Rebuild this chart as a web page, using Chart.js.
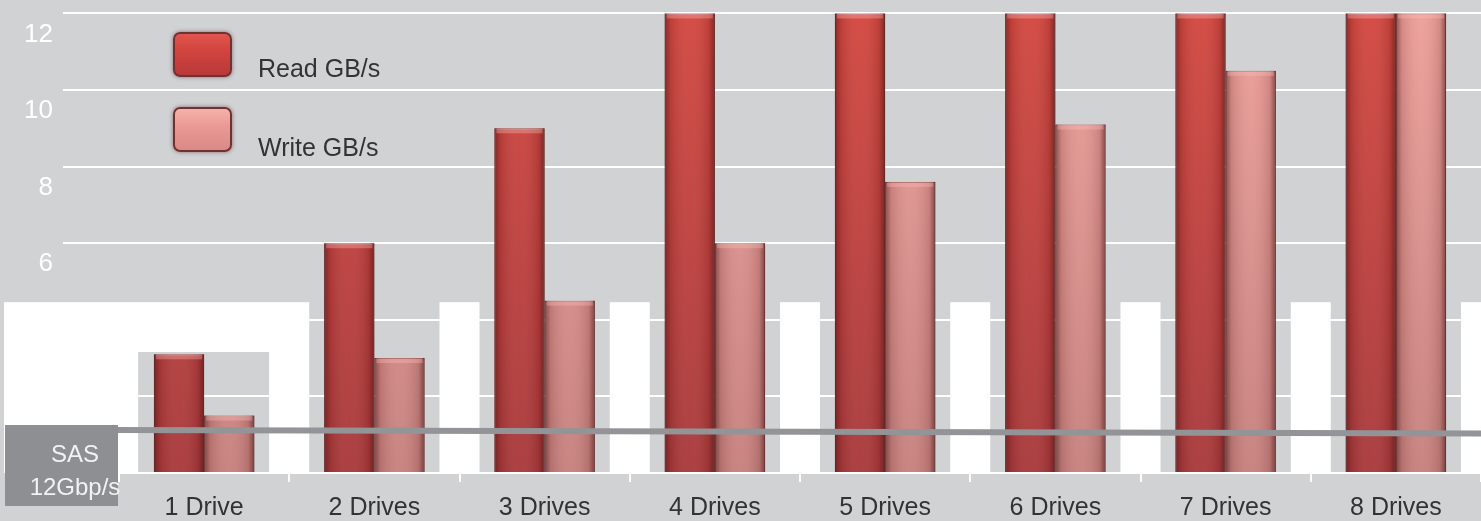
<!DOCTYPE html>
<html>
<head>
<meta charset="utf-8">
<script src="https://cdn.jsdelivr.net/npm/chart.js@4.4.1/dist/chart.umd.min.js"></script>
<style>
  html, body { margin: 0; padding: 0; background: #d1d2d4; }
  #wrap { position: relative; width: 1481px; height: 521px; overflow: hidden; font-family: "Liberation Sans", Arial, sans-serif; }
  #chart { position: absolute; left: 0; top: 0; }
  .swatch { position: absolute; left: 173px; width: 55px; height: 41px; border-radius: 7px; border: 2px solid #6e3232; box-shadow: 0 0 4px rgba(90,40,40,0.6); }
  .swatch.read { top: 32px; background: linear-gradient(to bottom, #e0554e 0%, #d2443e 40%, #b8393a 100%); }
  .swatch.write { top: 107px; background: linear-gradient(to bottom, #f4b1ab 0%, #eb9a95 40%, #d98a87 100%); }
  .legtext { position: absolute; left: 258px; font-size: 25px; line-height: 25px; color: #333; white-space: nowrap; }
  #sas { position: absolute; left: 5px; top: 425px; width: 113px; height: 81px; background: #8e8f93; }
  #sastext { position: absolute; left: 15px; top: 437px; width: 120px; text-align: center; color: #f2f2f2; font-size: 24px; line-height: 33px; }
</style>
</head>
<body>
<div id="wrap">
  <canvas id="chart" width="1481" height="521"></canvas>
  <div class="swatch read"></div>
  <div class="legtext" style="top:56px">Read GB/s</div>
  <div class="swatch write"></div>
  <div class="legtext" style="top:135px">Write GB/s</div>
  <div id="sas"></div>
  <div id="sastext">SAS<br>12Gbp/s</div>
</div>
<script>
// Dados do gráfico
const categorias = ['1 Drive', '2 Drives', '3 Drives', '4 Drives', '5 Drives', '6 Drives', '7 Drives', '8 Drives'];
const leitura = [3.1, 6.0, 9.0, 12.0, 12.0, 12.0, 12.0, 12.0];   // Read GB/s
const escrita = [1.5, 3.0, 4.5, 6.0, 7.6, 9.1, 10.5, 12.0];      // Write GB/s
const ticksY = [2, 4, 6, 8, 10, 12];
const limiteSAS = [1.12, 1.03]; // linha SAS 12Gbp/s (início, fim)

// Gradiente vertical das barras
function gradiente(ctx, area, topo, base) {
    const g = ctx.createLinearGradient(0, area.top, 0, area.bottom);
    g.addColorStop(0, topo);
    g.addColorStop(1, base);
    return g;
}

// Fundo: retângulos brancos entre os grupos (como na imagem original)
const fundoPlugin = {
    id: 'fundo',
    beforeDraw(chart) {
        const { ctx, chartArea, scales } = chart;
        const x = scales.x, y = scales.y;
        const larg = (chartArea.right - chartArea.left) / categorias.length;
        const topo = y.getPixelForValue(4.46);
        const base = y.getPixelForValue(0);
        ctx.save();
        ctx.fillStyle = '#ffffff';
        // bloco da esquerda
        ctx.fillRect(4, topo, chartArea.left + larg + 20 - 4, base - topo);
        for (let i = 2; i <= categorias.length; i++) {
            const bx = chartArea.left + i * larg;
            ctx.fillRect(bx - 20, topo, 40, base - topo);
        }
        // recorte cinza atrás do primeiro grupo
        ctx.fillStyle = '#d1d2d4';
        const gt = y.getPixelForValue(3.16);
        const cx = x.getPixelForValue(0);
        ctx.fillRect(cx - 66, gt, 131, base - gt);
        ctx.restore();
    },
    afterDatasetsDraw(chart) {
        const { ctx, chartArea, scales } = chart;
        ctx.save();
        // sombreado lateral das barras (efeito 3D)
        chart.data.datasets.forEach((ds, di) => {
            chart.getDatasetMeta(di).data.forEach(bar => {
                const l = bar.x - bar.width / 2, r = bar.x + bar.width / 2;
                const g = ctx.createLinearGradient(l, 0, r, 0);
                g.addColorStop(0, 'rgba(70,20,20,0.55)');
                g.addColorStop(0.12, 'rgba(70,20,20,0.15)');
                g.addColorStop(0.5, 'rgba(255,255,255,0.04)');
                g.addColorStop(0.88, 'rgba(70,20,20,0.15)');
                g.addColorStop(1, 'rgba(70,20,20,0.6)');
                ctx.fillStyle = g;
                ctx.fillRect(l, bar.y, r - l, bar.base - bar.y);
                // tampa superior mais clara
                ctx.fillStyle = 'rgba(255,190,185,0.35)';
                ctx.fillRect(l + 2, bar.y, r - l - 4, 5);
            });
        });
        // linha do limite SAS
        ctx.strokeStyle = '#929497';
        ctx.lineWidth = 6;
        ctx.beginPath();
        ctx.moveTo(118, scales.y.getPixelForValue(limiteSAS[0]));
        ctx.lineTo(chartArea.right, scales.y.getPixelForValue(limiteSAS[1]));
        ctx.stroke();
        ctx.restore();
    }
};

const ctx = document.getElementById('chart').getContext('2d');
const chart = new Chart(ctx, {
    type: 'bar',
    data: {
        labels: categorias,
        datasets: [{
            label: 'Read GB/s',
            data: leitura,
            backgroundColor: c => c.chart.chartArea ? gradiente(c.chart.ctx, c.chart.chartArea, '#d4473f', '#a8383a') : '#c0403c',
            borderColor: '#7a2c2a',
            borderWidth: 1
        }, {
            label: 'Write GB/s',
            data: escrita,
            backgroundColor: c => c.chart.chartArea ? gradiente(c.chart.ctx, c.chart.chartArea, '#ee9f99', '#c6807d') : '#e08c8c',
            borderColor: '#8a4a48',
            borderWidth: 1
        }]
    },
    options: {
        responsive: false,
        animation: false,
        layout: { padding: 0 },
        datasets: { bar: { categoryPercentage: 0.59, barPercentage: 1.0 } },
        plugins: { legend: { display: false }, tooltip: { enabled: false } },
        scales: {
            x: {
                grid: { drawOnChartArea: false, color: '#ffffff', lineWidth: 2, tickLength: 9 },
                border: { color: '#ffffff', width: 2 },
                ticks: { color: '#333333', font: { family: 'Liberation Sans', size: 25 }, padding: 11, maxRotation: 0 },
                afterFit: s => { s.height = 48; s.paddingLeft = 0; s.paddingRight = 0; }
            },
            y: {
                min: 0,
                max: 12.35,
                afterBuildTicks: s => { s.ticks = [0].concat(ticksY).map(v => ({ value: v })); },
                grid: { color: '#ffffff', lineWidth: 2, tickLength: 56 },
                border: { display: false },
                ticks: {
                    color: '#ffffff',
                    font: { family: 'Liberation Sans', size: 26 },
                    padding: 10,
                    labelOffset: 21,
                    callback: v => (v === 0 ? '' : v)
                },
                afterFit: s => { s.width = 119; s.paddingTop = 0; s.paddingBottom = 0; }
            }
        }
    },
    plugins: [fundoPlugin]
});
</script>
</body>
</html>
